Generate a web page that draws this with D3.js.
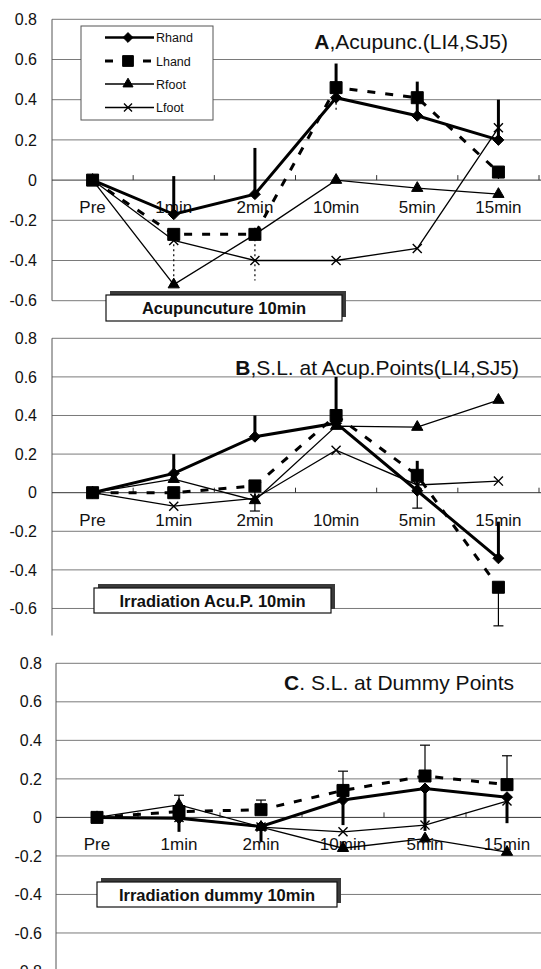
<!DOCTYPE html>
<html>
<head>
<meta charset="utf-8">
<script src="https://cdn.jsdelivr.net/npm/d3@7"></script>
<style>
  body { margin: 0; background: #fff; }
  svg { display: block; font-family: "Liberation Sans", Arial, sans-serif; }
</style>
</head>
<body>
<div id="chart-area"></div>
<script>
const CATEGORIES = ["Pre", "1min", "2min", "10min", "5min", "15min"]
const SERIES = ["Rhand", "Lhand", "Rfoot", "Lfoot"]
const Y_TICKS = [0.8, 0.6, 0.4, 0.2, 0, -0.2, -0.4, -0.6]
const Y_TICKS_C = [0.8, 0.6, 0.4, 0.2, 0, -0.2, -0.4, -0.6, -0.8]

// Panel A, acupuncture
const A_RHAND = [0, -0.17, -0.07, 0.41, 0.32, 0.20]
const A_LHAND = [0, -0.27, -0.27, 0.46, 0.41, 0.04]
const A_RFOOT = [0, -0.52, -0.27, 0.00, -0.04, -0.07]
const A_LFOOT = [0, -0.30, -0.40, -0.40, -0.34, 0.26]
const A_RHAND_UP = [null, 0.19, 0.23, 0.17, 0.17, 0.20]
const A_LHAND_DOWN = [null, 0.24, 0.23, 0.12, 0.08, 0.05]

// Panel B, S.L. at acupuncture points
const B_RHAND = [0, 0.10, 0.29, 0.36, 0.01, -0.34]
const B_LHAND = [0, 0.00, 0.035, 0.40, 0.09, -0.49]
const B_RFOOT = [0, 0.07, -0.04, 0.345, 0.34, 0.48]
const B_LFOOT = [0, -0.07, -0.03, 0.22, 0.04, 0.06]
const B_RHAND_UP = [null, 0.10, 0.11, 0.24, 0.155, 0.19]
const B_LHAND_DOWN = [null, null, 0.13, null, 0.17, 0.20]

// Panel C, S.L. at dummy points
const C_RHAND = [0, -0.005, -0.047, 0.09, 0.15, 0.105]
const C_LHAND = [0, 0.03, 0.04, 0.14, 0.215, 0.17]
const C_RFOOT = [0, 0.065, -0.05, -0.16, -0.11, -0.18]
const C_LFOOT = [0, 0.0, -0.05, -0.075, -0.04, 0.085]
const C_LHAND_UP = [null, 0.085, 0.05, 0.10, 0.16, 0.15]
const C_RHAND_DOWN = [null, 0.07, 0.08, 0.13, 0.22, 0.135]

const W = 541, H = 969

const svg = d3.select("#chart-area").append("svg")
  .attr("width", W)
  .attr("height", H)

// diamond drawn as a square turned 45 degrees
const diamond = {
  draw(ctx, size) {
    const r = Math.sqrt(size / 2)
    ctx.moveTo(0, -r); ctx.lineTo(r, 0); ctx.lineTo(0, r); ctx.lineTo(-r, 0); ctx.closePath()
  }
}

const STYLES = {
  Rhand: { width: 3, dash: null, symbol: diamond, size: 60, fill: "#000" },
  Lhand: { width: 3, dash: "8,10", symbol: d3.symbolSquare, size: 144, fill: "#000" },
  Rfoot: { width: 1.3, dash: null, symbol: d3.symbolTriangle, size: 55, fill: "#000" },
  Lfoot: { width: 1.3, dash: null, symbol: d3.symbolTimes, size: 55, fill: "none" }
}

function drawPanel(p) {
  const g = svg.append("g")

  const x = d3.scaleBand().domain(CATEGORIES).range(p.xRange)
  const y = d3.scaleLinear().domain(p.yDomain).range(p.yRange)
  const cx = c => x(c) + x.bandwidth() / 2
  const left = p.xRange[0]

  // gridlines
  g.selectAll(".grid")
    .data(p.ticks.filter(t => t !== 0 && t >= p.yDomain[0]))
    .enter().append("line")
      .attr("x1", left).attr("x2", W)
      .attr("y1", d => y(d)).attr("y2", d => y(d))
      .attr("stroke", "#7a7a7a").attr("stroke-width", 1)

  // left axis line
  g.append("line")
    .attr("x1", left).attr("x2", left)
    .attr("y1", y(p.yDomain[1])).attr("y2", y(p.yDomain[0]))
    .attr("stroke", "#555")

  // y tick labels
  const yAxis = d3.axisLeft(y)
    .tickValues(p.ticks)
    .tickSize(0)
    .tickPadding(p.labelPad)
    .tickFormat(d => d === 0 ? "0" : d.toFixed(1))
  const ya = g.append("g").attr("transform", `translate(${left},0)`).call(yAxis)
  ya.select(".domain").remove()
  ya.selectAll("text")
    .attr("font-size", "16px")
    .attr("font-family", "'Liberation Sans', Arial, sans-serif")
    .attr("fill", "#111")

  // zero line with upward ticks at band edges
  g.append("line")
    .attr("x1", left).attr("x2", W)
    .attr("y1", y(0)).attr("y2", y(0))
    .attr("stroke", "#333")
  g.selectAll(".ztick")
    .data(CATEGORIES)
    .enter().append("line")
      .attr("x1", d => x(d) + x.step()).attr("x2", d => x(d) + x.step())
      .attr("y1", y(0)).attr("y2", y(0) - 5)
      .attr("stroke", "#333")

  // category labels
  g.selectAll(".cat")
    .data(CATEGORIES)
    .enter().append("text")
      .attr("x", d => cx(d))
      .attr("y", y(0) + 33)
      .attr("text-anchor", "middle")
      .attr("font-size", "17px")
      .attr("fill", "#111")
      .text(d => d)

  // annotation box with shadow
  const b = p.box
  g.append("rect")
    .attr("x", b.x + 4).attr("y", b.y - 4)
    .attr("width", b.w).attr("height", b.h)
    .attr("fill", "#3a3a3a")
  g.append("rect")
    .attr("x", b.x).attr("y", b.y)
    .attr("width", b.w).attr("height", b.h)
    .attr("fill", "#fff").attr("stroke", "#111").attr("stroke-width", 1.2)
  g.append("text")
    .attr("x", b.x + b.w / 2)
    .attr("y", b.y + b.h / 2 + 6)
    .attr("text-anchor", "middle")
    .attr("font-size", "16.5px")
    .attr("font-weight", "bold")
    .attr("fill", "#111")
    .text(b.text)

  // title
  const t = g.append("text")
    .attr("x", p.title.x).attr("y", p.title.y)
    .attr("text-anchor", "end")
    .attr("font-size", "21px")
    .attr("fill", "#111")
  t.append("tspan").attr("font-weight", "bold").text(p.title.lead)
  t.append("tspan").text(p.title.rest)

  // series lines
  const line = d3.line()
    .x((d, i) => cx(CATEGORIES[i]))
    .y(d => y(d))

  SERIES.forEach(s => {
    const st = STYLES[s]
    g.append("path")
      .attr("d", line(p.values[s]))
      .attr("fill", "none")
      .attr("stroke", "#000")
      .attr("stroke-width", st.width)
      .attr("stroke-dasharray", st.dash)
  })

  // error bars
  p.errors.forEach(e => {
    const vals = p.values[e.series]
    e.data.forEach((err, i) => {
      if (err == null) return
      const v0 = vals[i]
      const v1 = v0 + e.dir * err
      const xx = cx(CATEGORIES[i])
      g.append("line")
        .attr("x1", xx).attr("x2", xx)
        .attr("y1", y(v0)).attr("y2", y(v1))
        .attr("stroke", "#000")
        .attr("stroke-width", e.style === "thick" ? 3 : 1.2)
        .attr("stroke-dasharray", e.style === "dotted" ? "2,3" : null)
      if (e.style === "cap") {
        g.append("line")
          .attr("x1", xx - 5).attr("x2", xx + 5)
          .attr("y1", y(v1)).attr("y2", y(v1))
          .attr("stroke", "#000").attr("stroke-width", 1.2)
      }
    })
  })

  // markers
  SERIES.forEach(s => {
    const st = STYLES[s]
    g.selectAll(null)
      .data(p.values[s])
      .enter().append("path")
        .attr("transform", (d, i) => `translate(${cx(CATEGORIES[i])},${y(d)})`)
        .attr("d", d3.symbol(st.symbol, st.size))
        .attr("fill", st.fill)
        .attr("stroke", "#000")
        .attr("stroke-width", s === "Lfoot" ? 1.4 : 1)
  })
}

drawPanel({
  xRange: [52, 539],
  yDomain: [-0.6, 0.8],
  yRange: [300.7, 19.3],
  ticks: Y_TICKS,
  labelPad: 15,
  values: { Rhand: A_RHAND, Lhand: A_LHAND, Rfoot: A_RFOOT, Lfoot: A_LFOOT },
  errors: [
    { series: "Rhand", dir: 1, data: A_RHAND_UP, style: "thick" },
    { series: "Lhand", dir: -1, data: A_LHAND_DOWN, style: "dotted" }
  ],
  box: { x: 106, y: 295, w: 236, h: 26, text: "Acupuncuture 10min" },
  title: { x: 508, y: 49, lead: "A", rest: ",Acupunc.(LI4,SJ5)" }
})

drawPanel({
  xRange: [52, 539],
  yDomain: [-0.74, 0.8],
  yRange: [635.5, 338.3],
  ticks: Y_TICKS,
  labelPad: 15,
  values: { Rhand: B_RHAND, Lhand: B_LHAND, Rfoot: B_RFOOT, Lfoot: B_LFOOT },
  errors: [
    { series: "Rhand", dir: 1, data: B_RHAND_UP, style: "thick" },
    { series: "Lhand", dir: -1, data: B_LHAND_DOWN, style: "cap" }
  ],
  box: { x: 94, y: 588, w: 237, h: 25, text: "Irradiation Acu.P. 10min" },
  title: { x: 519, y: 375, lead: "B", rest: ",S.L. at Acup.Points(LI4,SJ5)" }
})

drawPanel({
  xRange: [56, 548],
  yDomain: [-0.8, 0.8],
  yRange: [971.5, 663.3],
  ticks: Y_TICKS_C,
  labelPad: 14,
  values: { Rhand: C_RHAND, Lhand: C_LHAND, Rfoot: C_RFOOT, Lfoot: C_LFOOT },
  errors: [
    { series: "Lhand", dir: 1, data: C_LHAND_UP, style: "cap" },
    { series: "Rhand", dir: -1, data: C_RHAND_DOWN, style: "thick" }
  ],
  box: { x: 97, y: 882, w: 240, h: 25, text: "Irradiation dummy 10min" },
  title: { x: 514, y: 690, lead: "C", rest: ". S.L. at Dummy Points" }
})

// legend (panel A)
const legend = svg.append("g")
legend.append("rect")
  .attr("x", 81).attr("y", 26)
  .attr("width", 132).attr("height", 94)
  .attr("fill", "#fff").attr("stroke", "#555")

const LEGEND_Y = [37.5, 61, 84, 107.5]
SERIES.forEach((s, i) => {
  const st = STYLES[s]
  const ly = LEGEND_Y[i]
  const row = legend.append("g")
  if (s === "Lhand") {
    row.append("line").attr("x1", 105).attr("x2", 113).attr("y1", ly).attr("y2", ly)
      .attr("stroke", "#000").attr("stroke-width", 3)
    row.append("line").attr("x1", 143).attr("x2", 151).attr("y1", ly).attr("y2", ly)
      .attr("stroke", "#000").attr("stroke-width", 3)
  } else {
    row.append("line").attr("x1", 105).attr("x2", 154).attr("y1", ly).attr("y2", ly)
      .attr("stroke", "#000").attr("stroke-width", s === "Rhand" ? 2.5 : 1.3)
  }
  row.append("path")
    .attr("transform", `translate(128,${ly})`)
    .attr("d", d3.symbol(st.symbol, st.size * 0.8))
    .attr("fill", st.fill)
    .attr("stroke", "#000")
    .attr("stroke-width", s === "Lfoot" ? 1.3 : 1)
  row.append("text")
    .attr("x", 156).attr("y", ly + 4.5)
    .attr("font-size", "12.5px")
    .attr("fill", "#111")
    .text(s)
})
</script>
</body>
</html>
